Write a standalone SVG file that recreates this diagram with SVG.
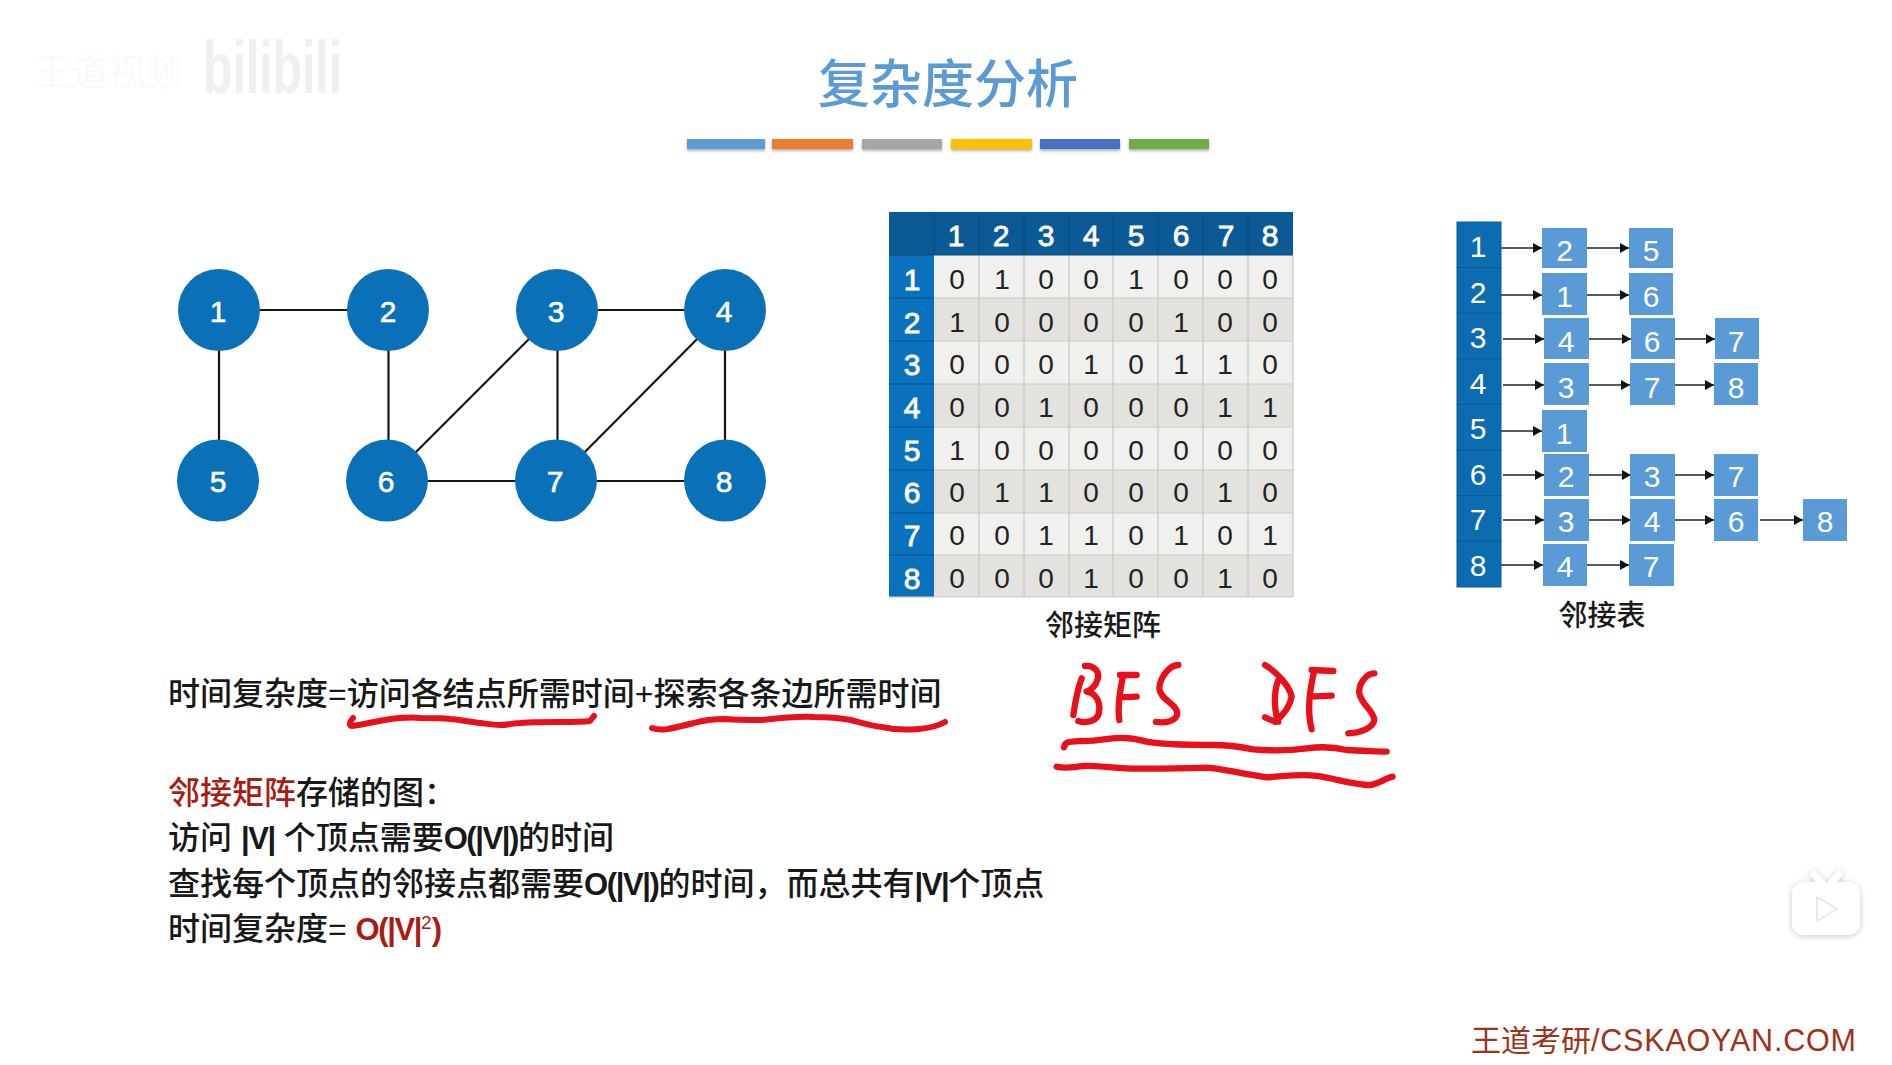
<svg xmlns="http://www.w3.org/2000/svg" width="1892" height="1065" viewBox="0 0 1892 1065">
<style>
text{font-family:"Liberation Sans","Noto Sans CJK SC",sans-serif}
.bg{fill:#fff}
.edge{stroke:#151515;stroke-width:2.200;fill:none}
.arr{stroke:#222;stroke-width:1.6;fill:none;marker-end:url(#ah)}
.gn{fill:#0a70b7}
.gt{fill:#fff;stroke:#fff;stroke-width:.6;font-size:30px;text-anchor:middle}
.hc{fill:#0b5a96}
.rh{fill:#0a72bc}
.ra{fill:#f0f0ef}
.rb{fill:#e3e2df}
.gl{stroke:#c9c9c6;stroke-width:1.2;fill:none}
.gd{stroke:#0a4f82;stroke-width:1.2;fill:none}
.mh{fill:#fff;stroke:#fff;stroke-width:.8;font-size:30px;text-anchor:middle}
.mc{fill:#222;font-size:28px;text-anchor:middle}
.lh{fill:#0b6db0;stroke:#0a5c95;stroke-width:1}
.lb{fill:#5a9ad6}
.lt{fill:#fff;font-size:30px;text-anchor:middle}
.cap{fill:#1a1a1a;font-size:29px;text-anchor:middle;font-weight:500}
.body{fill:#181818;font-size:32px;font-weight:500}
.lat{font-size:31px;font-weight:700;letter-spacing:-1.4px}
.red{fill:#a81c14}
.ink{stroke:#e8101a;stroke-width:6;fill:none;stroke-linecap:round;stroke-linejoin:round}
</style>
<defs>
<marker id="ah" markerUnits="userSpaceOnUse" markerWidth="9" markerHeight="10" refX="9" refY="5" orient="auto"><path d="M0 0L9 5L0 10Z" fill="#111"/></marker>
<filter id="ts" x="-20%" y="-20%" width="140%" height="140%"><feDropShadow dx="0" dy="1" stdDeviation="3" flood-color="#000" flood-opacity=".22"/></filter>
<filter id="bs" x="-5%" y="-40%" width="110%" height="200%"><feDropShadow dx="0" dy="2" stdDeviation="1.5" flood-color="#000" flood-opacity=".3"/></filter>
</defs>
<rect class="bg" width="1892" height="1065"/>

<g id="watermark">
<text x="34" y="86" font-size="37" fill="#fafafa">王道视频</text>
<text x="203" y="93" font-size="74" font-weight="700" fill="#f0f0f0" textLength="139" lengthAdjust="spacingAndGlyphs">bilibili</text>
</g>

<g id="title">
<text x="948" y="103" font-size="52" fill="#5b9bd5" text-anchor="middle" font-weight="500">复杂度分析</text>
<g filter="url(#bs)">
<rect x="687" y="139" width="78" height="10" fill="#5b9bd5"/>
<rect x="772" y="139" width="81" height="10" fill="#ed7d31"/>
<rect x="862" y="139" width="80" height="10" fill="#a5a5a5"/>
<rect x="951" y="139" width="81" height="10" fill="#ffc000"/>
<rect x="1040" y="139" width="80" height="10" fill="#4472c4"/>
<rect x="1129" y="139" width="80" height="10" fill="#70ad47"/>
</g>
</g>

<g id="connectors">
<path class="edge" d="M219 310H388"/>
<path class="edge" d="M557 310H725"/>
<path class="edge" d="M219 310V480"/>
<path class="edge" d="M388.500 310V480"/>
<path class="edge" d="M557.500 310V480"/>
<path class="edge" d="M725 310V480"/>
<path class="edge" d="M387 481H725"/>
<path class="edge" d="M387 481L557 311"/>
<path class="edge" d="M556 481L725 311"/>
<path class="arr" d="M1501 248H1542"/>
<path class="arr" d="M1587 248H1629"/>
<path class="arr" d="M1501 295H1542"/>
<path class="arr" d="M1587 295H1629"/>
<path class="arr" d="M1503 339H1544"/>
<path class="arr" d="M1589 339H1631"/>
<path class="arr" d="M1672 339H1715"/>
<path class="arr" d="M1503 385H1544"/>
<path class="arr" d="M1589 385H1630"/>
<path class="arr" d="M1672 385H1714"/>
<path class="arr" d="M1501 431H1542"/>
<path class="arr" d="M1503 475H1544"/>
<path class="arr" d="M1589 475H1631"/>
<path class="arr" d="M1672 475H1714"/>
<path class="arr" d="M1503 520H1544"/>
<path class="arr" d="M1589 520H1631"/>
<path class="arr" d="M1672 520H1714"/>
<path class="arr" d="M1760 520H1803"/>
<path class="arr" d="M1501 565H1543"/>
<path class="arr" d="M1587 565H1629"/>
</g>

<g id="n1"><circle class="gn" cx="219" cy="310" r="41"/><text class="gt" x="218" y="322">1</text></g>
<g id="n2"><circle class="gn" cx="388" cy="310" r="41"/><text class="gt" x="388" y="322">2</text></g>
<g id="n3"><circle class="gn" cx="557" cy="310" r="41"/><text class="gt" x="556" y="322">3</text></g>
<g id="n4"><circle class="gn" cx="725" cy="310" r="41"/><text class="gt" x="724" y="322">4</text></g>
<g id="n5"><circle class="gn" cx="218" cy="480.500" r="41"/><text class="gt" x="218" y="492">5</text></g>
<g id="n6"><circle class="gn" cx="387" cy="480.500" r="41"/><text class="gt" x="386" y="492">6</text></g>
<g id="n7"><circle class="gn" cx="556" cy="480.500" r="41"/><text class="gt" x="555" y="492">7</text></g>
<g id="n8"><circle class="gn" cx="725" cy="480.500" r="41"/><text class="gt" x="724" y="492">8</text></g>

<g id="matrix">
<rect class="ra" x="934" y="255" width="359" height="43"/>
<rect class="rb" x="934" y="298" width="359" height="43"/>
<rect class="ra" x="934" y="341" width="359" height="43"/>
<rect class="rb" x="934" y="384" width="359" height="43"/>
<rect class="ra" x="934" y="427" width="359" height="43"/>
<rect class="rb" x="934" y="470" width="359" height="43"/>
<rect class="ra" x="934" y="513" width="359" height="42"/>
<rect class="rb" x="934" y="555" width="359" height="42"/>
<rect class="hc" x="889" y="212" width="404" height="43"/>
<rect class="rh" x="889" y="255" width="45" height="342"/>
<path class="gl" d="M934 298H1293M934 341H1293M934 384H1293M934 427H1293M934 470H1293M934 513H1293M934 555H1293M979 255V597M1024 255V597M1069 255V597M1113 255V597M1158 255V597M1203 255V597M1248 255V597M889 597H1293M1293 255V597"/>
<path class="gd" d="M934 212V255M979 212V255M1024 212V255M1069 212V255M1113 212V255M1158 212V255M1203 212V255M1248 212V255M889 255H1293M889 298H934M889 341H934M889 384H934M889 427H934M889 470H934M889 513H934M889 555H934"/>
<text class="mh" x="956" y="246">1</text><text class="mh" x="1001" y="246">2</text><text class="mh" x="1046" y="246">3</text><text class="mh" x="1091" y="246">4</text><text class="mh" x="1136" y="246">5</text><text class="mh" x="1181" y="246">6</text><text class="mh" x="1226" y="246">7</text><text class="mh" x="1270" y="246">8</text>
<text class="mh" x="912" y="290">1</text><text class="mh" x="912" y="333">2</text><text class="mh" x="912" y="375">3</text><text class="mh" x="912" y="418">4</text><text class="mh" x="912" y="461">5</text><text class="mh" x="912" y="503">6</text><text class="mh" x="912" y="546">7</text><text class="mh" x="912" y="589">8</text>
<g id="row1"><text class="mc" x="957" y="289">0</text><text class="mc" x="1002" y="289">1</text><text class="mc" x="1046" y="289">0</text><text class="mc" x="1091" y="289">0</text><text class="mc" x="1136" y="289">1</text><text class="mc" x="1181" y="289">0</text><text class="mc" x="1225" y="289">0</text><text class="mc" x="1270" y="289">0</text></g>
<g id="row2"><text class="mc" x="957" y="332">1</text><text class="mc" x="1002" y="332">0</text><text class="mc" x="1046" y="332">0</text><text class="mc" x="1091" y="332">0</text><text class="mc" x="1136" y="332">0</text><text class="mc" x="1181" y="332">1</text><text class="mc" x="1225" y="332">0</text><text class="mc" x="1270" y="332">0</text></g>
<g id="row3"><text class="mc" x="957" y="374">0</text><text class="mc" x="1002" y="374">0</text><text class="mc" x="1046" y="374">0</text><text class="mc" x="1091" y="374">1</text><text class="mc" x="1136" y="374">0</text><text class="mc" x="1181" y="374">1</text><text class="mc" x="1225" y="374">1</text><text class="mc" x="1270" y="374">0</text></g>
<g id="row4"><text class="mc" x="957" y="417">0</text><text class="mc" x="1002" y="417">0</text><text class="mc" x="1046" y="417">1</text><text class="mc" x="1091" y="417">0</text><text class="mc" x="1136" y="417">0</text><text class="mc" x="1181" y="417">0</text><text class="mc" x="1225" y="417">1</text><text class="mc" x="1270" y="417">1</text></g>
<g id="row5"><text class="mc" x="957" y="460">1</text><text class="mc" x="1002" y="460">0</text><text class="mc" x="1046" y="460">0</text><text class="mc" x="1091" y="460">0</text><text class="mc" x="1136" y="460">0</text><text class="mc" x="1181" y="460">0</text><text class="mc" x="1225" y="460">0</text><text class="mc" x="1270" y="460">0</text></g>
<g id="row6"><text class="mc" x="957" y="502">0</text><text class="mc" x="1002" y="502">1</text><text class="mc" x="1046" y="502">1</text><text class="mc" x="1091" y="502">0</text><text class="mc" x="1136" y="502">0</text><text class="mc" x="1181" y="502">0</text><text class="mc" x="1225" y="502">1</text><text class="mc" x="1270" y="502">0</text></g>
<g id="row7"><text class="mc" x="957" y="545">0</text><text class="mc" x="1002" y="545">0</text><text class="mc" x="1046" y="545">1</text><text class="mc" x="1091" y="545">1</text><text class="mc" x="1136" y="545">0</text><text class="mc" x="1181" y="545">1</text><text class="mc" x="1225" y="545">0</text><text class="mc" x="1270" y="545">1</text></g>
<g id="row8"><text class="mc" x="957" y="588">0</text><text class="mc" x="1002" y="588">0</text><text class="mc" x="1046" y="588">0</text><text class="mc" x="1091" y="588">1</text><text class="mc" x="1136" y="588">0</text><text class="mc" x="1181" y="588">0</text><text class="mc" x="1225" y="588">1</text><text class="mc" x="1270" y="588">0</text></g>
<text class="cap" x="1103" y="636">邻接矩阵</text>
</g>

<g id="adj-heads">
<rect class="lh" x="1457" y="222" width="44" height="45.6"/><text class="lt" x="1478" y="257">1</text>
<rect class="lh" x="1457" y="267.6" width="44" height="45.6"/><text class="lt" x="1478" y="303">2</text>
<rect class="lh" x="1457" y="313.2" width="44" height="45.6"/><text class="lt" x="1478" y="348">3</text>
<rect class="lh" x="1457" y="358.8" width="44" height="45.6"/><text class="lt" x="1478" y="394">4</text>
<rect class="lh" x="1457" y="404.4" width="44" height="45.6"/><text class="lt" x="1478" y="439">5</text>
<rect class="lh" x="1457" y="450" width="44" height="45.6"/><text class="lt" x="1478" y="485">6</text>
<rect class="lh" x="1457" y="495.6" width="44" height="45.6"/><text class="lt" x="1478" y="530">7</text>
<rect class="lh" x="1457" y="541.2" width="44" height="45.8"/><text class="lt" x="1478" y="576">8</text>
</g>
<g id="a1-2"><rect class="lb" x="1542" y="228" width="45" height="40"/><text class="lt" x="1564.500" y="261">2</text></g>
<g id="a1-5"><rect class="lb" x="1629" y="228" width="44" height="40"/><text class="lt" x="1651" y="261">5</text></g>
<g id="a2-1"><rect class="lb" x="1542" y="273" width="45" height="42"/><text class="lt" x="1564.500" y="307">1</text></g>
<g id="a2-6"><rect class="lb" x="1629" y="273" width="44" height="42"/><text class="lt" x="1651" y="307">6</text></g>
<g id="a3-4"><rect class="lb" x="1544" y="318" width="45" height="41"/><text class="lt" x="1566" y="352">4</text></g>
<g id="a3-6"><rect class="lb" x="1631" y="318" width="44" height="41"/><text class="lt" x="1652" y="352">6</text></g>
<g id="a3-7"><rect class="lb" x="1715" y="318" width="44" height="41"/><text class="lt" x="1736" y="352">7</text></g>
<g id="a4-3"><rect class="lb" x="1544" y="363" width="45" height="42"/><text class="lt" x="1566" y="398">3</text></g>
<g id="a4-7"><rect class="lb" x="1630" y="363" width="45" height="42"/><text class="lt" x="1652" y="398">7</text></g>
<g id="a4-8"><rect class="lb" x="1714" y="363" width="44" height="42"/><text class="lt" x="1736" y="398">8</text></g>
<g id="a5-1"><rect class="lb" x="1542" y="410" width="45" height="42"/><text class="lt" x="1564" y="444">1</text></g>
<g id="a6-2"><rect class="lb" x="1544" y="454" width="45" height="42"/><text class="lt" x="1566" y="487">2</text></g>
<g id="a6-3"><rect class="lb" x="1630" y="454" width="45" height="42"/><text class="lt" x="1652" y="487">3</text></g>
<g id="a6-7"><rect class="lb" x="1714" y="454" width="44" height="42"/><text class="lt" x="1736" y="487">7</text></g>
<g id="a7-3"><rect class="lb" x="1544" y="499" width="45" height="42"/><text class="lt" x="1566" y="532">3</text></g>
<g id="a7-4"><rect class="lb" x="1630" y="499" width="45" height="42"/><text class="lt" x="1652" y="532">4</text></g>
<g id="a7-6"><rect class="lb" x="1714" y="499" width="44" height="42"/><text class="lt" x="1736" y="532">6</text></g>
<g id="a7-8"><rect class="lb" x="1803" y="499" width="44" height="42"/><text class="lt" x="1825" y="532">8</text></g>
<g id="a8-4"><rect class="lb" x="1543" y="544" width="44" height="42"/><text class="lt" x="1565" y="577">4</text></g>
<g id="a8-7"><rect class="lb" x="1629" y="544" width="45" height="42"/><text class="lt" x="1651" y="577">7</text></g>
<text id="adj-cap" class="cap" x="1602" y="626">邻接表</text>

<g id="notes">
<text class="body" x="168" y="705">时间复杂度=访问各结点所需时间+探索各条边所需时间</text>
<text class="body" x="168" y="804"><tspan class="red">邻接矩阵</tspan>存储的图：</text>
<text class="body" x="168" y="849">访问 <tspan class="lat">|V|</tspan> 个顶点需要<tspan class="lat">O(|V|)</tspan>的时间</text>
<text class="body" x="168" y="895">查找每个顶点的邻接点都需要<tspan class="lat">O(|V|)</tspan>的时间，而总共有<tspan class="lat">|V|</tspan>个顶点</text>
<text class="body" x="168" y="940">时间复杂度= <tspan class="red lat">O(|V|</tspan><tspan class="red" font-size="19" dy="-11">2</tspan><tspan class="red lat" dy="11">)</tspan></text>
</g>

<g id="ink-underlines">
<path class="ink" d="M353 718C349 722 349 726 352 726C362 725 372 722 385 720C398 718 410 717 420 718C432 718 442 718 450 719C462 720 470 722 480 723C488 724 494 725 500 725C508 725 514 723 520 723C534 722 548 722 560 722C572 722 582 722 590 721L594 716"/>
<path class="ink" d="M652 728C657 730 662 730 668 729C678 727 686 725 694 723C704 720 714 719 725 719C738 720 750 720 762 720C780 718 798 716 814 717C828 717 840 718 851 720C862 723 872 726 882 727C895 730 908 730 919 729C930 728 938 726 945 722"/>
</g>
<g id="ink-bfs-dfs" transform="translate(1040 640) scale(.3333)">
<g style="stroke-width:19px" class="ink">
<path d="M125 115C115 140 105 190 100 225"/>
<path d="M135 78C160 75 185 95 170 125C165 140 150 150 140 155C170 160 185 190 175 225C165 245 135 250 115 243"/>
<path d="M240 105L290 105M250 105C240 150 232 200 238 240M240 172L290 170"/>
<path d="M415 75C390 75 360 110 358 145C360 180 410 190 412 220C410 245 375 250 348 246"/>
<path d="M675 75C710 95 750 140 755 170C750 200 730 225 705 245M715 120C700 160 705 210 712 240M675 232C690 240 700 245 715 245"/>
<path d="M815 90L880 93M822 95C810 150 800 210 815 268M810 170L875 167"/>
<path d="M1003 100C980 100 955 130 958 160C965 195 1000 210 1003 240C1000 265 960 278 925 280"/>
<path d="M72 322C75 305 85 305 120 303C150 305 180 300 210 296C240 292 280 293 320 305C370 315 450 315 520 315C570 315 600 320 640 328C690 332 750 332 800 325C840 320 880 320 920 330C960 333 1000 333 1040 335"/>
<path d="M50 380C70 385 90 385 130 378C170 375 210 385 260 385C320 387 430 385 500 383C540 385 600 400 680 412C730 410 780 400 830 408C880 415 950 435 990 435C1015 432 1035 415 1058 410"/>
</g>
</g>

<text id="footer" x="1471" y="1051" font-size="30" fill="#a0321a">王道考研<tspan font-size="30.500" letter-spacing=".8">/CSKAOYAN.COM</tspan></text>

<g id="tv-badge">
<g filter="url(#ts)" fill="#fff">
<path d="M1814 874L1821 882M1839 874L1832 882" stroke="#fff" stroke-width="7" stroke-linecap="round"/>
<rect x="1792" y="882" width="68" height="53" rx="12"/>
</g>
<path d="M1817 897L1837 909L1817 921Z" fill="#fff" stroke="#e8e8e8" stroke-width="2" stroke-linejoin="round"/>
</g>
</svg>
